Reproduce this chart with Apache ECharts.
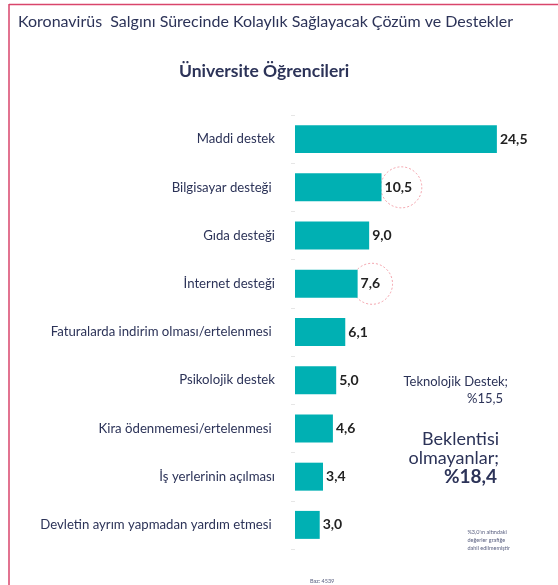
<!DOCTYPE html>
<html>
<head>
<meta charset="utf-8">
<script src="https://cdn.jsdelivr.net/npm/echarts@6/dist/echarts.min.js"></script>
<style>
	html, body { margin: 0; padding: 0; background: #fff; }
	#chart { width: 558px; height: 585px; }
</style>
</head>
<body>
<div id="chart"></div>
<script>
// kategoriler ve değerler
var categories = [
	'Maddi destek',
	'Bilgisayar desteği ',
	'Gıda desteği',
	'İnternet desteği',
	'Faturalarda indirim olması/ertelenmesi ',
	'Psikolojik destek',
	'Kira ödenmemesi/ertelenmesi ',
	'İş yerlerinin açılması',
	'Devletin ayrım yapmadan yardım etmesi '
];
var values = [24.5, 10.5, 9.0, 7.6, 6.1, 5.0, 4.6, 3.4, 3.0];
// kesikli daire ile işaretlenen değerler (etiketin üzerinde)
var highlightCats = ['Bilgisayar desteği ', 'İnternet desteği'];
var highlightAt = [12.9, 9.35];

(function () {
	var myChart = echarts.init(document.getElementById('chart'));
	var navy = '#2c3358';
	var font = 'Lato';

	var option = {
		animation: false,
		textStyle: { fontFamily: font },
		title: [{
			text: 'Koronavirüs  Salgını Sürecinde Kolaylık Sağlayacak Çözüm ve Destekler',
			left: 13,
			top: 9,
			textStyle: { fontSize: 16, fontWeight: 'normal', color: navy, fontFamily: font }
		}, {
			text: 'Üniversite Öğrencileri',
			left: 174,
			top: 57,
			textStyle: { fontSize: 17.5, fontWeight: 'bold', color: navy, fontFamily: font }
		}],
		grid: {
			left: 295,
			top: 115,
			width: 206,
			height: 434
		},
		xAxis: {
			type: 'value',
			min: 0,
			max: 25,
			show: false
		},
		yAxis: {
			type: 'category',
			inverse: true,
			data: categories,
			axisLine: { show: false },
			axisTick: {
				show: true,
				length: 4,
				lineStyle: { color: '#e6e6e6' }
			},
			axisLabel: {
				margin: 20,
				fontSize: 13.2,
				color: navy,
				fontFamily: font
			}
		},
		series: [{
			type: 'bar',
			data: values,
			barWidth: '58%',
			itemStyle: { color: '#00b0b3' },
			label: {
				show: true,
				position: 'right',
				distance: 3,
				fontSize: 14,
				fontWeight: 'bold',
				color: '#222',
				fontFamily: font,
				formatter: function (p) {
					return p.value.toFixed(1).replace('.', ',');
				}
			}
		}, {
			// etiket çevresindeki kesikli daireler
			type: 'scatter',
			silent: true,
			symbol: 'circle',
			symbolSize: 41,
			z: 1,
			data: highlightAt.map(function (v, i) { return [v, highlightCats[i]]; }),
			itemStyle: {
				color: 'rgba(0,0,0,0)',
				borderColor: '#f08a96',
				borderWidth: 1,
				borderType: [2, 2]
			}
		}],
		graphic: [
			// çerçeve
			{ type: 'line', shape: { x1: 9, y1: 4.5, x2: 558, y2: 4.5 }, style: { stroke: '#d9456b', lineWidth: 1.5 } },
			{ type: 'line', shape: { x1: 9, y1: 4, x2: 9, y2: 585 }, style: { stroke: '#d9456b', lineWidth: 1.5 } },
			// sağ taraftaki notlar
			{ type: 'text', right: 50, top: 375, style: { text: 'Teknolojik Destek;', font: '13px Lato', fill: navy } },
			{ type: 'text', right: 55, top: 392, style: { text: '%15,5', font: '13px Lato', fill: navy } },
			{ type: 'text', right: 59, top: 430, style: { text: 'Beklentisi', font: '18px Lato', fill: navy } },
			{ type: 'text', right: 59, top: 449, style: { text: 'olmayanlar;', font: '18px Lato', fill: navy } },
			{ type: 'text', right: 61, top: 467, style: { text: '%18,4', font: 'bold 19px Lato', fill: navy } },
			{ type: 'text', right: 48, top: 528, style: { text: '%3,0\'ın altındaki\ndeğerler grafiğe\ndahil edilmemiştir', font: '5.5px Lato', fill: '#5a6080', align: 'right', lineHeight: 8 } },
			{ type: 'text', left: 310, top: 578, style: { text: 'Baz: 4539', font: '5.5px Lato', fill: '#5a6080' } }
		]
	};
	myChart.setOption(option);
})();
</script>
</body>
</html>
